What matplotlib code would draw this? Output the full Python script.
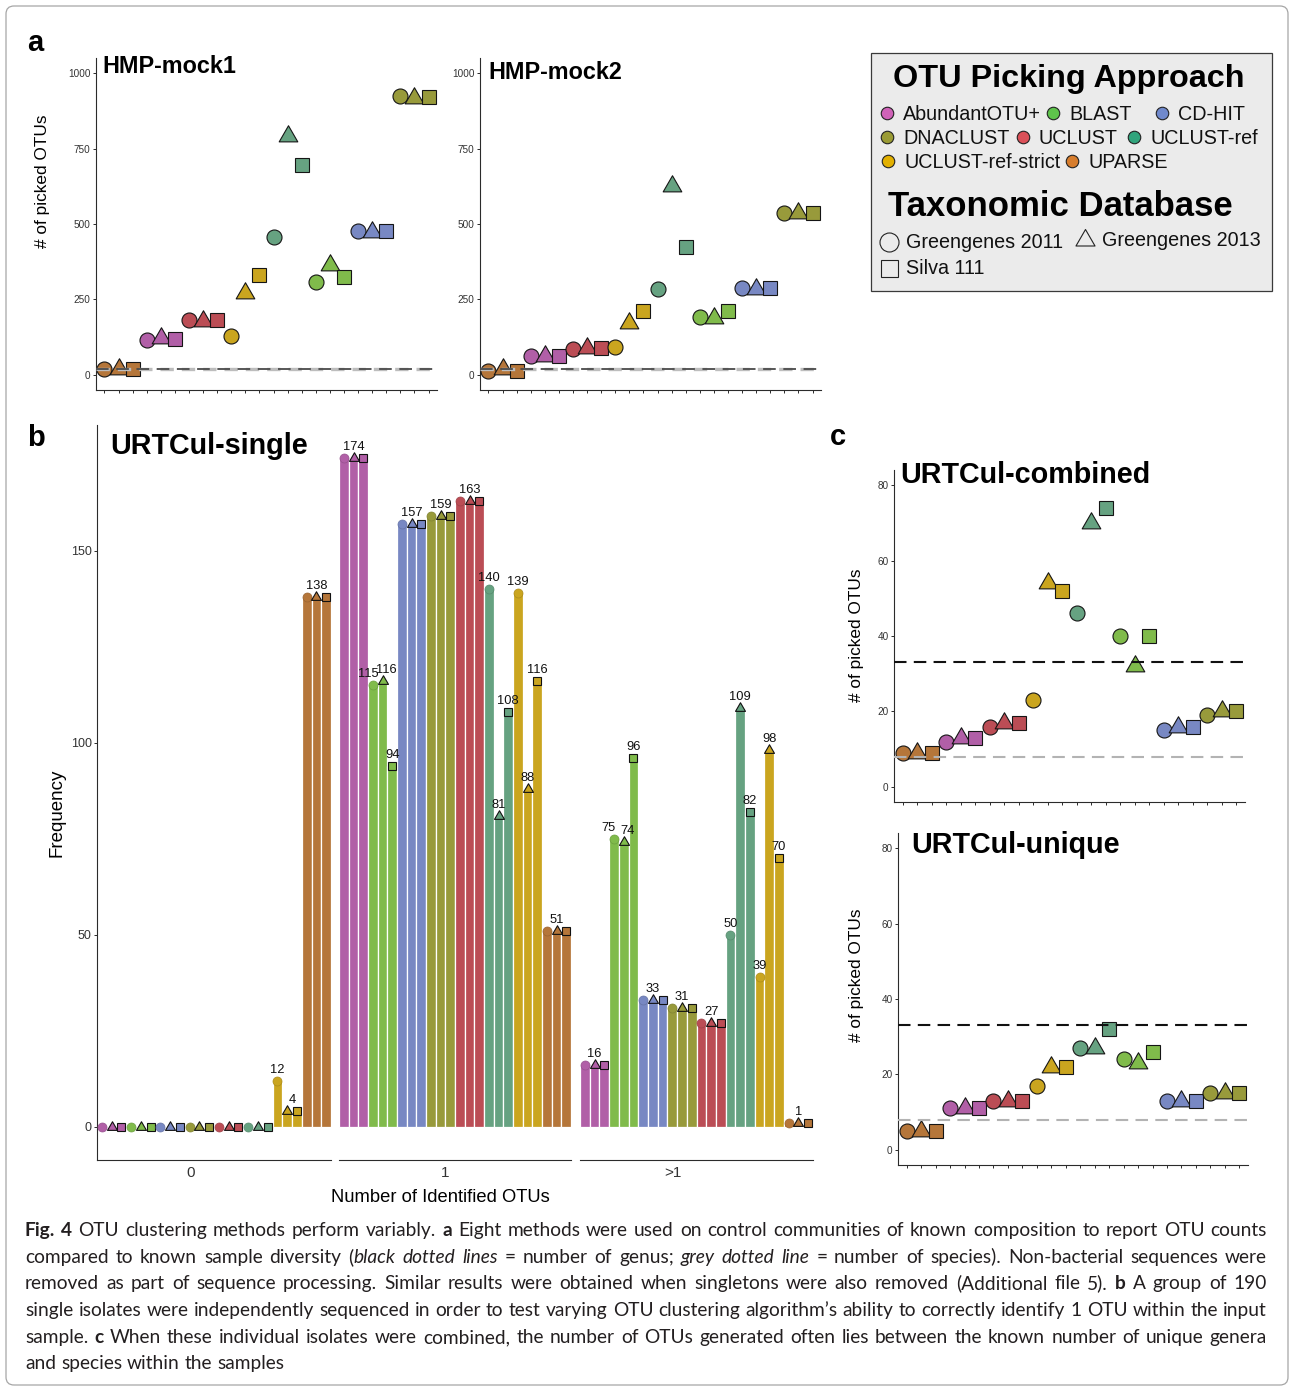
import re
import numpy as np
import matplotlib
matplotlib.use('Agg')
import matplotlib.pyplot as plt
from matplotlib.path import Path
from matplotlib.patches import FancyBboxPatch, Rectangle
from matplotlib.colors import to_rgb

plt.rcParams['font.family'] = ['Liberation Sans', 'DejaVu Sans']

# ------------------------------------------------------------------ data
databases = ['Greengenes 2011', 'Greengenes 2013', 'Silva 111']
order_a = ['UPARSE', 'AbundantOTU+', 'UCLUST', 'UCLUST-ref-strict',
           'UCLUST-ref', 'BLAST', 'CD-HIT', 'DNACLUST']
order_b = ['AbundantOTU+', 'BLAST', 'CD-HIT', 'DNACLUST', 'UCLUST',
           'UCLUST-ref', 'UCLUST-ref-strict', 'UPARSE']

# panel a / c values (method-major, 3 databases per method, order_a)
mock1 = [19, 19, 19, 116, 121, 119, 182, 180, 182, 129, 273, 331,
         458, 792, 697, 308, 363, 323, 478, 475, 477, 923, 918, 921]
mock2 = [14, 18, 14, 64, 63, 61, 85, 88, 88, 91, 173, 213,
         284, 625, 423, 193, 188, 213, 287, 286, 287, 536, 535, 538]
combined = [9, 9, 9, 12, 13, 13, 16, 17, 17, 23, 54, 52,
            46, 70, 74, 40, 32, 40, 15, 16, 16, 19, 20, 20]
unique = [5, 5, 5, 11, 11, 11, 13, 13, 13, 17, 22, 22,
          27, 27, 32, 24, 23, 26, 13, 13, 13, 15, 15, 15]
mock_genus, mock_species = 18, 20
urt_genus, urt_species = 33, 8

# panel b frequencies (method-major, order_b)
facet_labels = ['0', '1', '>1']
freq_0 = [0, 0, 0, 0, 0, 0, 0, 0, 0, 0, 0, 0,
          0, 0, 0, 0, 0, 0, 12, 4, 4, 138, 138, 138]
freq_1 = [174, 174, 174, 115, 116, 94, 157, 157, 157, 159, 159, 159,
          163, 163, 163, 140, 81, 108, 139, 88, 116, 51, 51, 51]
freq_gt1 = [16, 16, 16, 75, 74, 96, 33, 33, 33, 31, 31, 31,
            27, 27, 27, 50, 109, 82, 39, 98, 70, 1, 1, 1]

point_colors = {'AbundantOTU+': '#b15fa7', 'BLAST': '#80bb4b', 'CD-HIT': '#7888c3',
                'DNACLUST': '#989a3b', 'UCLUST': '#bb4d55', 'UCLUST-ref': '#66a281',
                'UCLUST-ref-strict': '#caa51f', 'UPARSE': '#b5763a'}
legend_colors = {'AbundantOTU+': '#d062b8', 'BLAST': '#5ec34b', 'CD-HIT': '#7089cc',
                 'DNACLUST': '#9a9b34', 'UCLUST': '#db5058', 'UCLUST-ref': '#30a47c',
                 'UCLUST-ref-strict': '#e2b000', 'UPARSE': '#d77d2d'}

caption = [
    "**Fig. 4** OTU clustering methods perform variably. **a** Eight methods were used on control communities of known composition to report OTU counts",
    "compared to known sample diversity (*black dotted lines* = number of genus; *grey dotted line* = number of species). Non-bacterial sequences were",
    "removed as part of sequence processing. Similar results were obtained when singletons were also removed (Additional file 5). **b** A group of 190",
    "single isolates were independently sequenced in order to test varying OTU clustering algorithm\u2019s ability to correctly identify 1 OTU within the input",
    "sample. **c** When these individual isolates were combined, the number of OTUs generated often lies between the known number of unique genera",
    "and species within the samples",
]

# ------------------------------------------------------------------ setup
W, H, DPI = 1294, 1387, 100
PX = 72.0 / DPI  # points per pixel
fig = plt.figure(figsize=(W / DPI, H / DPI), dpi=DPI)
fig.patch.set_facecolor('white')

TRI = Path([(0, 1), (-0.866, -0.5), (0.866, -0.5), (0, 1)],
           [Path.MOVETO, Path.LINETO, Path.LINETO, Path.CLOSEPOLY])
SHAPE = {'Greengenes 2011': 'o', 'Greengenes 2013': TRI, 'Silva 111': 's'}
BIG = {'Greengenes 2011': 15, 'Greengenes 2013': 21.5, 'Silva 111': 13.5}   # px
SMALL = {'Greengenes 2011': 9, 'Greengenes 2013': 11.5, 'Silva 111': 8.5}   # px
AXC = '#2b2b2b'


def add_ax(x0, y0, x1, y1):
    return fig.add_axes([x0 / W, 1 - y1 / H, (x1 - x0) / W, (y1 - y0) / H])


def style(ax, fs, left=True):
    for s in ['top', 'right']:
        ax.spines[s].set_visible(False)
    for s in ['left', 'bottom']:
        ax.spines[s].set_color(AXC)
        ax.spines[s].set_linewidth(0.8)
    if not left:
        ax.spines['left'].set_visible(False)
    ax.tick_params(axis='both', direction='out', length=2.4, width=0.7, color=AXC,
                   labelsize=fs, labelcolor='#333333', pad=1.5)
    ax.set_facecolor('none')


def darker(c, f=0.8):
    r, g, b = to_rgb(c)
    return (r * f, g * f, b * f)


def scatter_panel(box, values, ylim, yticks, lines):
    ax = add_ax(*box)
    x = np.arange(1, 25)
    for i, v in enumerate(values):
        m = order_a[i // 3]
        db = databases[i % 3]
        ax.plot([x[i]], [v], ls='none', marker=SHAPE[db], ms=BIG[db] * PX,
                mfc=point_colors[m], mec='#151515', mew=0.8, zorder=3, clip_on=False)
    for y, col, lw, dash in lines:
        ax.axhline(y, color=col, lw=lw, ls=(0, dash), zorder=4)
    ax.set_xlim(0.4, 24.6)
    ax.set_ylim(*ylim)
    ax.set_xticks(x)
    ax.set_xticklabels([])
    ax.set_yticks(yticks)
    style(ax, 7.2)
    return ax


# ------------------------------------------------------------------ panel a
lines_a = [(mock_species, '#bdbdbd', 2.4, (4.0, 2.4)), (mock_genus, '#4a4a4a', 1.3, (7.0, 4.2))]
scatter_panel((96, 58, 437, 390), mock1, (-50, 1050), [0, 250, 500, 750, 1000], lines_a)
scatter_panel((480, 58, 821, 390), mock2, (-50, 1050), [0, 250, 500, 750, 1000], lines_a)

# ------------------------------------------------------------------ panel c
lines_c = [(urt_species, '#b3b3b3', 1.5, (6.0, 3.5)), (urt_genus, '#111111', 1.5, (6.0, 3.5))]
scatter_panel((894, 470, 1245, 802), combined, (-4, 84), [0, 20, 40, 60, 80], lines_c)
scatter_panel((898, 833, 1248, 1165), unique, (-4, 84), [0, 20, 40, 60, 80], lines_c)

# ------------------------------------------------------------------ panel b
facet_boxes = [(97, 425, 331, 1160), (339, 425, 571, 1160), (580, 425, 813, 1160)]
facet_tick_pos = [10.1, 11.5, 10.1]
for k, vals in enumerate([freq_0, freq_1, freq_gt1]):
    ax = add_ax(*facet_boxes[k])
    x = np.arange(1, 25)
    cols = [point_colors[order_b[i // 3]] for i in range(24)]
    ax.bar(x, vals, width=1.0, color=cols, edgecolor='white', linewidth=0.9, zorder=2)
    for i, v in enumerate(vals):
        db = databases[i % 3]
        c = cols[i]
        if db == 'Greengenes 2011':
            mec, mew = darker(c, 0.85), 0.5
        else:
            mec, mew = '#111111', 0.8
        ax.plot([x[i]], [v], ls='none', marker=SHAPE[db], ms=SMALL[db] * PX,
                mfc=c, mec=mec, mew=mew, zorder=3, clip_on=False)
    for g in range(8):
        gv = np.array(vals[3 * g:3 * g + 3])
        gx = x[3 * g:3 * g + 3]
        labs = []
        for uv in dict.fromkeys(gv.tolist()):
            if uv <= 0:
                continue
            labs.append([gx[gv == uv].mean(), uv, 0.0])
        # push apart labels of neighbouring bars at similar heights
        for a in range(len(labs)):
            for b in range(a + 1, len(labs)):
                if abs(labs[a][0] - labs[b][0]) <= 1 and abs(labs[a][1] - labs[b][1]) < 8:
                    lo, hi = (a, b) if labs[a][0] < labs[b][0] else (b, a)
                    labs[lo][2] -= 5
                    labs[hi][2] += 4
        for xm, uv, dx in labs:
            ax.annotate(str(uv), (xm, uv), xytext=(dx * PX, 8 * PX), textcoords='offset points',
                        ha='center', va='baseline', fontsize=9.3, color='#111111', zorder=5)
    ax.set_xlim(0.5, 24.5)
    ax.set_ylim(-8.7, 182.7)
    ax.set_xticks([facet_tick_pos[k]])
    ax.set_xticklabels([facet_labels[k]])
    style(ax, 9, left=(k == 0))
    ax.tick_params(axis='x', length=0, labelsize=11, pad=4)
    if k == 0:
        ax.set_yticks([0, 50, 100, 150])
    else:
        ax.set_yticks([])

# ------------------------------------------------------------------ overlay (text, legend, caption)
ov = fig.add_axes([0, 0, 1, 1], zorder=10)
ov.set_xlim(0, W)
ov.set_ylim(H, 0)
ov.axis('off')
ov.patch.set_alpha(0)

# outer border
ov.add_patch(FancyBboxPatch((6, 6), W - 12, H - 8, boxstyle='round,pad=0,rounding_size=8',
                            fc='none', ec='#a6a6a6', lw=0.9))

# panel letters
for s, x, y in [('a', 27, 51), ('b', 27, 446), ('c', 830, 445)]:
    ov.text(x, y, s, fontsize=21, fontweight='bold', ha='left', va='baseline')

# titles
for s, x, y, fs in [('HMP-mock1', 102, 73, 16.8), ('HMP-mock2', 488, 79, 16.8),
                    ('URTCul-single', 110, 454, 20.7), ('URTCul-combined', 900, 483, 20.7),
                    ('URTCul-unique', 911, 853, 20.7)]:
    ov.text(x, y, s, fontsize=fs, fontweight='bold', ha='left', va='baseline')

# axis labels
for x, y in [(43, 181), (857, 635), (857, 975)]:
    ov.text(x, y, '# of picked OTUs', fontsize=12.4, rotation=90, ha='center', va='center')
ov.text(57, 813, 'Frequency', fontsize=13.5, rotation=90, ha='center', va='center')
ov.text(440, 1202, 'Number of Identified OTUs', fontsize=13.2, ha='center', va='baseline')

# legend box
ov.add_patch(Rectangle((871, 53), 401, 238, fc='#ebebeb', ec='#3a3a3a', lw=0.9))
ov.text(1068.5, 87, 'OTU Picking Approach', fontsize=23.3, fontweight='bold',
        ha='center', va='baseline')
ov.text(1060.5, 216, 'Taxonomic Database', fontsize=25, fontweight='bold',
        ha='center', va='baseline')
legend_pos = {'AbundantOTU+': (887, 113), 'BLAST': (1053, 113), 'CD-HIT': (1162, 113),
              'DNACLUST': (887, 137), 'UCLUST': (1023, 137), 'UCLUST-ref': (1134, 137),
              'UCLUST-ref-strict': (888, 161), 'UPARSE': (1072, 161)}
for m, (mx, my) in legend_pos.items():
    ov.plot([mx], [my], ls='none', marker='o', ms=12.5 * PX, mfc=legend_colors[m],
            mec='#222222', mew=0.8)
    ov.text(mx + 16, my + 6.5, m, fontsize=14.2, ha='left', va='baseline', color='#111111')
db_pos = {'Greengenes 2011': (889, 242, 19), 'Greengenes 2013': (1085, 240, 22),
          'Silva 111': (889, 268, 17)}
for db, (mx, my, sz) in db_pos.items():
    ov.plot([mx], [my], ls='none', marker=SHAPE[db], ms=sz * PX, mfc='none',
            mec='#222222', mew=0.8)
    ov.text(mx + 17, my + 6.5, db, fontsize=14.2, ha='left', va='baseline', color='#111111')

# ------------------------------------------------------------------ caption
CAP_FONT = ['Lato', 'DejaVu Sans']
CAP_COL = '#231f20'
renderer = fig.canvas.get_renderer()


def parse(line):
    words = [[]]
    st = 'n'
    for tok in re.split(r'(\*\*|\*)', line):
        if tok == '**':
            st = 'n' if st == 'b' else 'b'
            continue
        if tok == '*':
            st = 'n' if st == 'i' else 'i'
            continue
        parts = tok.split(' ')
        for j, p in enumerate(parts):
            if j > 0:
                words.append([])
            if p:
                words[-1].append((p, st))
    return [w for w in words if w]


def mk(x, y, s, st, fs):
    return ov.text(x, y, s, fontsize=fs, fontfamily=CAP_FONT,
                   fontweight='bold' if st == 'b' else 'normal',
                   fontstyle='italic' if st == 'i' else 'normal',
                   ha='left', va='baseline', color=CAP_COL)


def width(s, st, fs):
    t = mk(0, 0, s, st, fs)
    w = t.get_window_extent(renderer).width
    t.remove()
    return w


def word_width(w, fs):
    return sum(width(p, st, fs) for p, st in w)


X0, X1 = 25, 1267
baselines = [1236, 1263, 1289, 1316, 1343, 1369]
parsed = [parse(l) for l in caption]
f0 = 12.6
sp0 = width('a a', 'n', f0) - 2 * width('a', 'n', f0)
nat = [sum(word_width(w, f0) for w in ws) + sp0 * (len(ws) - 1) for ws in parsed[:-1]]
fs = min(14.5, f0 * (X1 - X0) / max(nat))
sp = width('a a', 'n', fs) - 2 * width('a', 'n', fs)
for li, ws in enumerate(parsed):
    wws = [word_width(w, fs) for w in ws]
    if li < len(parsed) - 1 and len(ws) > 1:
        gap = ((X1 - X0) - sum(wws)) / (len(ws) - 1)
    else:
        gap = sp
    x = X0
    for w, ww in zip(ws, wws):
        xx = x
        for p, st in w:
            mk(xx, baselines[li], p, st, fs)
            xx += width(p, st, fs)
        x += ww + gap

fig.savefig('out.png', dpi=DPI, facecolor='white')
